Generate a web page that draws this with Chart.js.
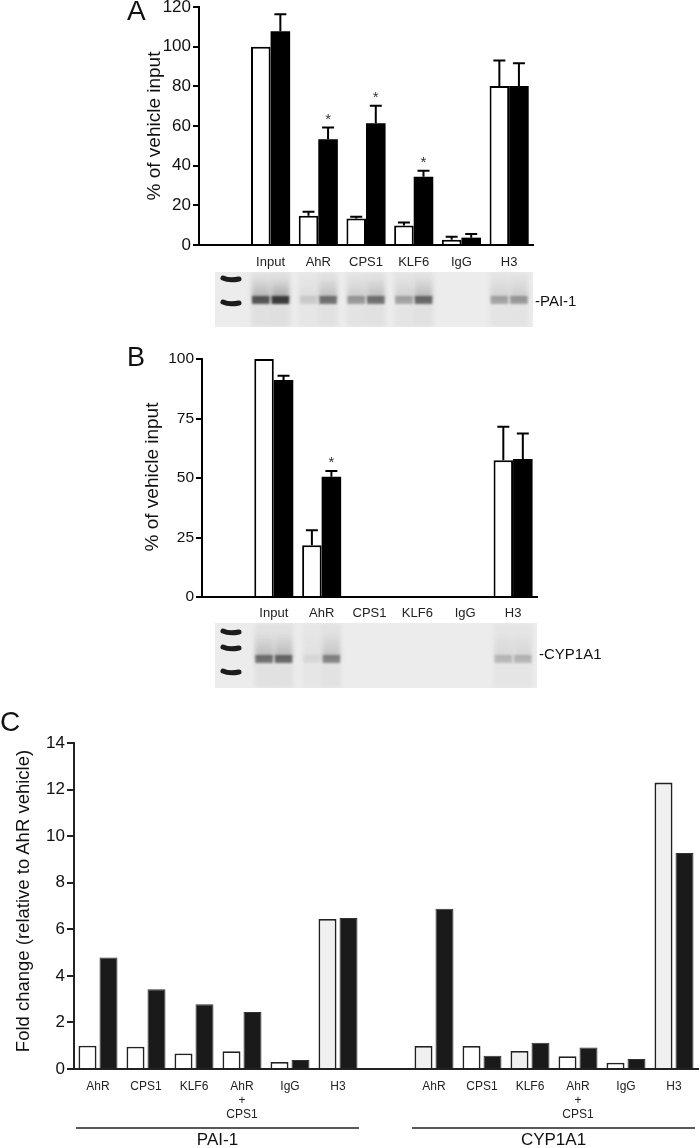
<!DOCTYPE html>
<html>
<head>
<meta charset="utf-8">
<script src="https://cdn.jsdelivr.net/npm/chart.js@4.4.0/dist/chart.umd.min.js"></script>
<style>
  html, body { margin: 0; padding: 0; background: #fff; }
  body { width: 700px; height: 1148px; position: relative; overflow: hidden;
         font-family: "Liberation Sans", Arial, sans-serif; color: #111; }
  canvas { position: absolute; left: 0; }
  .txt { position: absolute; white-space: nowrap; line-height: 1; z-index: 2; }
  .ytitle { position: absolute; white-space: nowrap; line-height: 1; z-index: 2;
            transform: translate(-50%, -50%) rotate(-90deg); }
</style>
</head>
<body>

<div class="txt" style="left:127px;top:-3px;font-size:28px">A</div>
<div class="ytitle" style="left:153px;top:126px;font-size:19px">% of vehicle input</div>
<div class="txt" style="left:535px;top:293px;font-size:15px">-PAI-1</div>
<canvas id="chartA" width="700" height="345" style="top:-10px;width:700px;height:345px"></canvas>

<div class="txt" style="left:127px;top:344px;font-size:27px">B</div>
<div class="ytitle" style="left:151px;top:477px;font-size:19px">% of vehicle input</div>
<div class="txt" style="left:539px;top:646px;font-size:15px">-CYP1A1</div>
<canvas id="chartB" width="700" height="355" style="top:340px;width:700px;height:355px"></canvas>

<div class="txt" style="left:0px;top:708px;font-size:28px">C</div>
<div class="ytitle" style="left:23px;top:901px;font-size:18.5px">Fold change (relative to AhR vehicle)</div>
<canvas id="chartC" width="700" height="433" style="top:715px;width:700px;height:433px"></canvas>

<script>
// ── Data ─────────────────────────────────────────────────────
// Panel A: PAI-1 ChIP, % of vehicle input
const labelsA = ["", "Input", "AhR", "CPS1", "KLF6", "IgG", "H3"];
const vehicleA = [null, 100, 14.8, 13.4, 9.8, 2.6, 80.2];
const vehicleErrA = [null, 0, 2.0, 0.8, 1.6, 1.6, 12.8];
const treatedA = [null, 107.8, 53.3, 61.4, 34.4, 3.7, 80.2];
const treatedErrA = [null, 8.6, 5.9, 8.8, 3.1, 1.8, 11.4];
const starsA = [false, false, true, true, true, false, false];
const ticksA = { max: 120, step: 20 };

// Panel B: CYP1A1 ChIP, % of vehicle input
const labelsB = ["", "Input", "AhR", "CPS1", "KLF6", "IgG", "H3"];
const vehicleB = [null, 100, 21.7, null, null, null, 57.5];
const vehicleErrB = [null, 0, 6.3, null, null, null, 14.0];
const treatedB = [null, 91.2, 50.5, null, null, null, 58.0];
const treatedErrB = [null, 1.8, 2.4, null, null, null, 10.7];
const starsB = [false, false, true, false, false, false, false];
const ticksB = { max: 100, step: 25 };

// Panel C: fold change relative to AhR vehicle
const labelsC = ["AhR", "CPS1", "KLF6", ["AhR", "+", "CPS1"], "IgG", "H3", "",
                 "AhR", "CPS1", "KLF6", ["AhR", "+", "CPS1"], "IgG", "H3"];
const vehicleC = [1.0, 0.96, 0.67, 0.76, 0.30, 6.44, null, 0.99, 0.99, 0.77, 0.55, 0.27, 12.3];
const treatedC = [4.79, 3.43, 2.78, 2.45, 0.39, 6.48, null, 6.88, 0.57, 1.13, 0.92, 0.43, 9.28];
const genesC = ["PAI-1", "CYP1A1"];
const geneRangesC = [[0, 5], [7, 12]];
const ticksC = { max: 14, step: 2 };

// gel band strength per lane (0 = no band)
const gelVehicleA = [0, 0.7, 0.12, 0.35, 0.3, 0, 0.3];
const gelTreatedA = [0, 0.85, 0.55, 0.55, 0.6, 0, 0.35];
const gelVehicleB = [0, 0.55, 0.06, 0, 0, 0, 0.2];
const gelTreatedB = [0, 0.6, 0.45, 0, 0, 0, 0.22];

// ── Styles ───────────────────────────────────────────────────
const FONT = "'Liberation Sans', Arial, sans-serif";
const vehicleFillC = ["#fff", "#fff", "#fff", "#fff", "#fff", "#f0f0f0", "#fff",
                      "#f0f0f0", "#fff", "#f0f0f0", "#fff", "#fff", "#f0f0f0"];

// ── Plugins ──────────────────────────────────────────────────
const errorBars = {
    id: "errorBars",
    afterDatasetsDraw(chart) {
        const ctx = chart.ctx, y = chart.scales.y;
        chart.data.datasets.forEach((ds, di) => {
            if (!ds.errors) return;
            chart.getDatasetMeta(di).data.forEach((bar, i) => {
                const v = ds.data[i], e = ds.errors[i];
                if (v == null) return;
                const top = y.getPixelForValue(v + (e || 0));
                ctx.save();
                ctx.strokeStyle = "#000";
                ctx.lineWidth = 2;
                if (e) {
                    ctx.beginPath();
                    ctx.moveTo(bar.x, bar.y);
                    ctx.lineTo(bar.x, top);
                    ctx.moveTo(bar.x - 6, top);
                    ctx.lineTo(bar.x + 6, top);
                    ctx.stroke();
                }
                if (ds.stars && ds.stars[i]) {
                    ctx.fillStyle = "#333";
                    ctx.font = "15px " + FONT;
                    ctx.textAlign = "center";
                    ctx.textBaseline = "alphabetic";
                    ctx.fillText("*", bar.x, top - 4);
                }
                ctx.restore();
            });
        });
    },
};

const gel = {
    id: "gel",
    afterDraw(chart, args, o) {
        if (!o || !o.vehicle) return;
        const ctx = chart.ctx, a = chart.chartArea;
        const x0 = a.left + o.left, x1 = a.right;
        const y0 = a.bottom + o.top, y1 = y0 + o.height;
        ctx.save();
        ctx.fillStyle = "#ececec";
        ctx.fillRect(x0, y0, x1 - x0, y1 - y0);
        ctx.beginPath();
        ctx.rect(x0, y0, x1 - x0, y1 - y0);
        ctx.clip();

        // ladder
        ctx.strokeStyle = "#1c1c1c";
        ctx.lineWidth = 5;
        ctx.lineCap = "round";
        o.ladder.forEach(ly => {
            ctx.beginPath();
            ctx.moveTo(x0 + 8, y0 + ly - 1);
            ctx.quadraticCurveTo(x0 + 14, y0 + ly + 2, x0 + 24, y0 + ly);
            ctx.stroke();
        });

        // lanes + bands
        [o.vehicle, o.treated].forEach((lev, di) => {
            chart.getDatasetMeta(di).data.forEach((bar, i) => {
                const k = lev[i];
                if (!k) return;
                const w = bar.width, bx = bar.x - w / 2;
                const by = y0 + o.bandY;
                ctx.filter = "blur(2px)";
                ctx.fillStyle = `rgba(0,0,0,${0.02 + k * 0.04})`;
                ctx.fillRect(bx, y0, w, y1 - y0);
                const g = ctx.createLinearGradient(0, by - o.smear, 0, by);
                g.addColorStop(0, "rgba(60,60,60,0)");
                g.addColorStop(1, `rgba(60,60,60,${k * 0.45})`);
                ctx.fillStyle = g;
                ctx.fillRect(bx + 1, by - o.smear, w - 2, o.smear);
                ctx.filter = "blur(1.2px)";
                ctx.fillStyle = `rgba(35,35,35,${k})`;
                ctx.fillRect(bx + 1, by - 4, w - 2, 8);
                ctx.filter = "none";
            });
        });
        ctx.restore();
    },
};

const geneGroups = {
    id: "geneGroups",
    afterDraw(chart, args, o) {
        if (!o || !o.names) return;
        const ctx = chart.ctx, x = chart.scales.x, a = chart.chartArea;
        ctx.save();
        o.names.forEach((name, gi) => {
            const [i0, i1] = o.ranges[gi];
            const l = Math.max(a.left, x.getPixelForValue(i0) - 22);
            const r = x.getPixelForValue(i1) + 21;
            const ly = a.bottom + o.lineY;
            ctx.strokeStyle = "#222";
            ctx.lineWidth = 1.5;
            ctx.beginPath();
            ctx.moveTo(l, ly);
            ctx.lineTo(r, ly);
            ctx.stroke();
            ctx.fillStyle = "#111";
            ctx.font = "17px " + FONT;
            ctx.textAlign = "center";
            ctx.textBaseline = "middle";
            ctx.fillText(name, (l + r) / 2, ly + o.textDy);
        });
        ctx.restore();
    },
};

// ── Chart builder ────────────────────────────────────────────
function makeChart(id, c) {
    const ctx = document.getElementById(id).getContext("2d");
    return new Chart(ctx, {
        type: "bar",
        data: { labels: c.labels, datasets: c.datasets },
        options: {
            responsive: false,
            animation: false,
            events: [],
            layout: { padding: c.padding },
            datasets: {
                bar: {
                    categoryPercentage: c.catPct,
                    barPercentage: c.barPct,
                    borderSkipped: "start",
                },
            },
            plugins: {
                legend: { display: false },
                tooltip: { enabled: false },
                gel: c.gel || {},
                geneGroups: c.groups || {},
            },
            scales: {
                x: {
                    grid: { display: false, drawTicks: false },
                    border: { display: true, color: c.axisColor, width: 2 },
                    ticks: {
                        autoSkip: false, maxRotation: 0, padding: c.xPad,
                        color: "#222", font: { family: FONT, size: c.xFont, lineHeight: 1.2 },
                    },
                    afterFit: s => { s.height = c.xHeight; },
                },
                y: {
                    min: 0, max: c.ticks.max,
                    grid: { drawOnChartArea: false, drawTicks: true, tickLength: c.tickLen,
                            color: c.axisColor, lineWidth: 2 },
                    border: { display: true, color: c.axisColor, width: 2 },
                    ticks: {
                        stepSize: c.ticks.step, padding: 2,
                        color: "#111", font: { family: FONT, size: c.yFont },
                    },
                    afterFit: s => { s.width = 60; },
                },
            },
        },
        plugins: [errorBars, gel, geneGroups],
    });
}

function pctDatasets(veh, vehErr, trt, trtErr, stars) {
    return [
        { data: veh, errors: vehErr, backgroundColor: "#fff", borderColor: "#000", borderWidth: 2 },
        { data: trt, errors: trtErr, stars: stars, backgroundColor: "#000", borderColor: "#000", borderWidth: 0 },
    ];
}

makeChart("chartA", {
    labels: labelsA,
    datasets: pctDatasets(vehicleA, vehicleErrA, treatedA, treatedErrA, starsA),
    padding: { left: 139, right: 167, top: 17, bottom: 0 },
    catPct: 0.82, barPct: 1.0,
    xHeight: 90, xPad: 10, xFont: 13, yFont: 17, tickLen: 6, axisColor: "#000",
    ticks: ticksA,
    gel: { top: 27, height: 55, left: 16, bandY: 28, smear: 22, ladder: [7, 31],
           vehicle: gelVehicleA, treated: gelTreatedA },
});

makeChart("chartB", {
    labels: labelsB,
    datasets: pctDatasets(vehicleB, vehicleErrB, treatedB, treatedErrB, starsB),
    padding: { left: 142, right: 163, top: 19, bottom: 0 },
    catPct: 0.815, barPct: 1.0,
    xHeight: 98, xPad: 9, xFont: 13, yFont: 15.5, tickLen: 6, axisColor: "#000",
    ticks: ticksB,
    gel: { top: 26, height: 65, left: 13, bandY: 36, smear: 26, ladder: [9, 25, 49],
           vehicle: gelVehicleB, treated: gelTreatedB },
});

makeChart("chartC", {
    labels: labelsC,
    datasets: [
        { data: vehicleC, backgroundColor: vehicleFillC, borderColor: "#222", borderWidth: 1.8 },
        { data: treatedC, backgroundColor: "#1a1a1a", borderColor: "#333", borderWidth: 1 },
    ],
    padding: { left: 14, right: 2, top: 28, bottom: 0 },
    catPct: 0.875, barPct: 0.857,
    xHeight: 79, xPad: 10, xFont: 12, yFont: 17, tickLen: 7, axisColor: "#222",
    ticks: ticksC,
    groups: { names: genesC, ranges: geneRangesC, lineY: 59, textDy: 12 },
});
</script>
</body>
</html>
